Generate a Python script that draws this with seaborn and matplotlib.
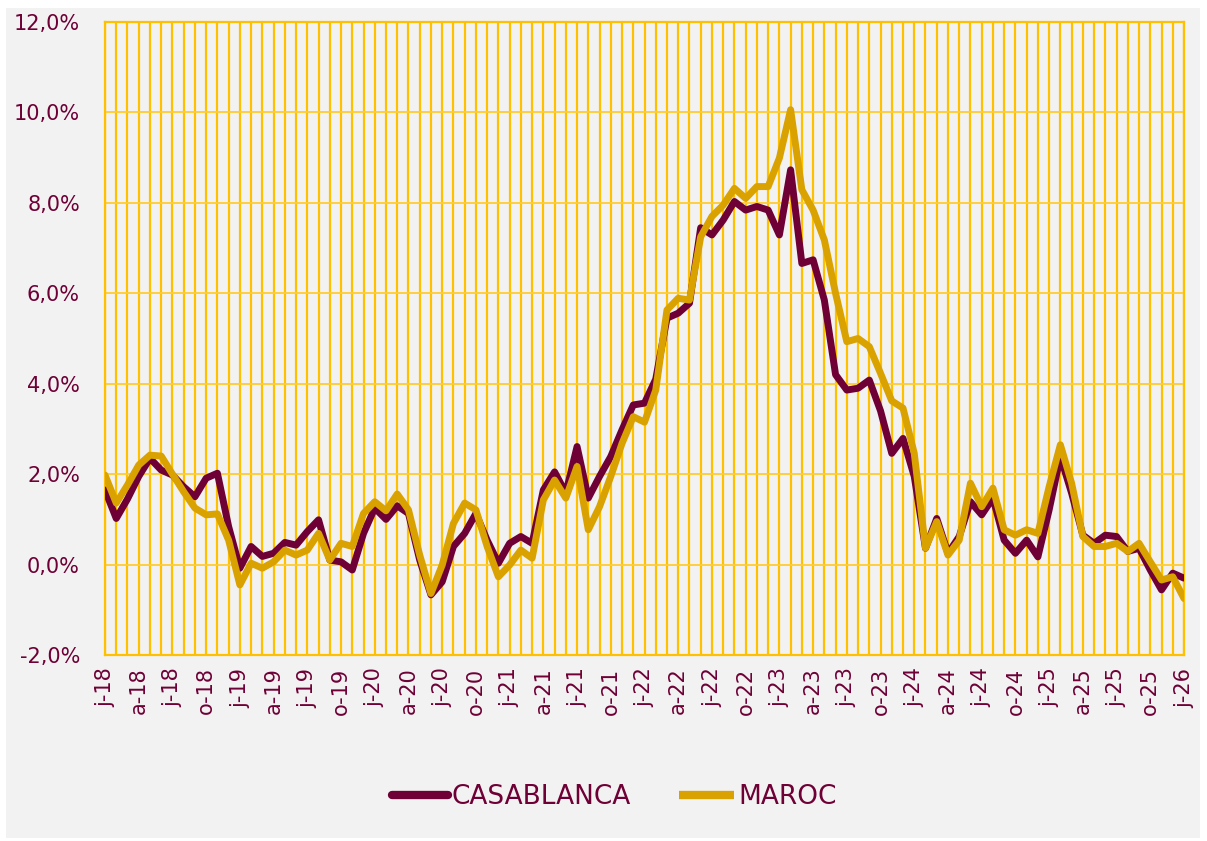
import numpy as np
import pandas as pd
import matplotlib
matplotlib.use("Agg")
import matplotlib.pyplot as plt
import seaborn as sns
from matplotlib.lines import Line2D
from matplotlib.patches import Rectangle

# ---------------- data (monthly, Jan 2018 -> Jan 2026, in %) ----------------
casablanca = [
    1.65, 1.02, 1.45, 1.95, 2.35, 2.09, 1.98, 1.72, 1.50, 1.91, 2.02, 0.84,
    -0.08, 0.40, 0.18, 0.25, 0.49, 0.43, 0.73, 0.99, 0.10, 0.06, -0.12, 0.69,
    1.25, 1.00, 1.30, 1.13, 0.10, -0.67, -0.38, 0.40, 0.69, 1.13, 0.54, 0.03,
    0.47, 0.62, 0.47, 1.65, 2.05, 1.58, 2.61, 1.47, 1.95, 2.39, 2.98, 3.53,
    3.57, 4.10, 5.45, 5.56, 5.78, 7.45, 7.29, 7.62, 8.03, 7.84, 7.92, 7.84,
    7.29, 8.73, 6.66, 6.74, 5.85, 4.20, 3.86, 3.90, 4.08, 3.40, 2.46, 2.79,
    1.95, 0.36, 1.02, 0.25, 0.62, 1.39, 1.10, 1.47, 0.54, 0.25, 0.54, 0.17,
    1.21, 2.39, 1.58, 0.65, 0.47, 0.65, 0.62, 0.29, 0.36, -0.12, -0.56, -0.19,
    -0.30,
]
maroc = [
    1.98, 1.36, 1.76, 2.20, 2.42, 2.40, 2.00, 1.61, 1.25, 1.10, 1.12, 0.54,
    -0.45, 0.03, -0.08, 0.06, 0.32, 0.21, 0.32, 0.69, 0.10, 0.47, 0.40, 1.13,
    1.39, 1.19, 1.56, 1.21, 0.21, -0.64, -0.01, 0.91, 1.36, 1.21, 0.40, -0.27,
    -0.01, 0.32, 0.14, 1.43, 1.87, 1.47, 2.17, 0.77, 1.28, 1.95, 2.68, 3.27,
    3.15, 3.86, 5.63, 5.89, 5.85, 7.25, 7.70, 7.95, 8.32, 8.10, 8.36, 8.36,
    8.99, 10.06, 8.29, 7.84, 7.18, 6.00, 4.93, 5.00, 4.82, 4.23, 3.62, 3.46,
    2.46, 0.36, 0.95, 0.21, 0.54, 1.80, 1.28, 1.69, 0.77, 0.65, 0.77, 0.69,
    1.72, 2.65, 1.80, 0.62, 0.40, 0.40, 0.47, 0.29, 0.47, 0.06, -0.34, -0.27,
    -0.75,
]
series_names = ["CASABLANCA", "MAROC"]
x_tick_labels = [
    "j-18", "a-18", "j-18", "o-18", "j-19", "a-19", "j-19", "o-19",
    "j-20", "a-20", "j-20", "o-20", "j-21", "a-21", "j-21", "o-21",
    "j-22", "a-22", "j-22", "o-22", "j-23", "a-23", "j-23", "o-23",
    "j-24", "a-24", "j-24", "o-24", "j-25", "a-25", "j-25", "o-25",
    "j-26",
]
y_ticks = [-2, 0, 2, 4, 6, 8, 10, 12]
y_tick_labels = ["-2,0%", "0,0%", "2,0%", "4,0%", "6,0%", "8,0%", "10,0%", "12,0%"]

# ---------------- styling ----------------
MAROON = "#6E0036"
GOLD = "#D9A200"
GRID = "#FFC000"
BG = "#F2F2F2"

n = len(casablanca)
months = np.arange(n)
df = pd.DataFrame({
    "mois": np.concatenate([months, months]),
    "valeur": casablanca + maroc,
    "serie": [series_names[0]] * n + [series_names[1]] * n,
})

sns.set_theme(style="white")
plt.rcParams["font.family"] = ["DejaVu Sans"]

W, H = 1207, 841
fig = plt.figure(figsize=(W / 100, H / 100), dpi=100, facecolor="white")
fig.patches.append(Rectangle((6 / W, 3 / H), 1194 / W, 830 / H,
                             transform=fig.transFigure, facecolor=BG,
                             edgecolor="none", zorder=-10))
ax = fig.add_axes([105 / W, 1 - 655 / H, (1184 - 105) / W, (655 - 22) / H])
ax.set_facecolor(BG)

sns.lineplot(data=df, x="mois", y="valeur", hue="serie", sort=False,
             palette={series_names[0]: MAROON, series_names[1]: GOLD},
             linewidth=5, legend=False, ax=ax)
for ln in ax.lines:
    ln.set_solid_capstyle("round")
    ln.set_solid_joinstyle("round")
    ln.set_zorder(3)

ax.set_xlim(0, n - 1)
ax.set_ylim(-2, 12)
ax.set_xticks(np.arange(0, n, 3))
ax.set_xticklabels(x_tick_labels, rotation=90)
ax.set_xticks(months, minor=True)
ax.set_yticks(y_ticks)
ax.set_yticklabels(y_tick_labels)
ax.set_axisbelow(True)
ax.grid(which="both", axis="x", color=GRID, linewidth=1.6)
ax.grid(which="major", axis="y", color="#FFCC33", linewidth=1.3)
ax.set_xlabel("")
ax.set_ylabel("")
ax.tick_params(axis="both", which="both", length=0, labelcolor=MAROON, labelsize=15)
ax.tick_params(axis="y", pad=18)
ax.tick_params(axis="x", pad=9)
for sp in ax.spines.values():
    sp.set_color(GRID)
    sp.set_linewidth(1.6)

handles = [
    Line2D([], [], color=MAROON, linewidth=6, solid_capstyle="round"),
    Line2D([], [], color=GOLD, linewidth=6, solid_capstyle="butt"),
]
fig.legend(handles, series_names, loc="center", bbox_to_anchor=(0.509, 0.052),
           ncol=2, frameon=False, fontsize=19, labelcolor=MAROON,
           handlelength=2.1, handletextpad=0.15, columnspacing=1.8)

fig.savefig("out.png", dpi=100, facecolor="white")
